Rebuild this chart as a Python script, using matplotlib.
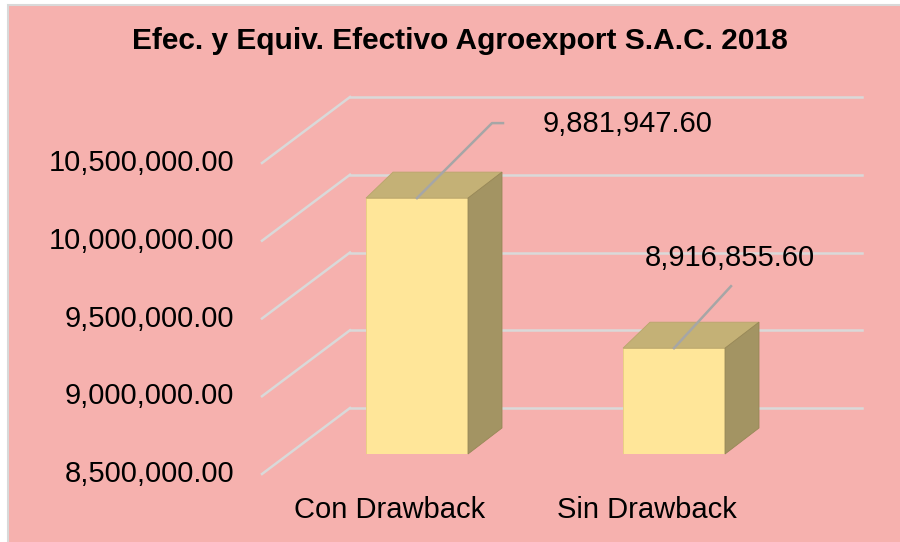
import matplotlib
matplotlib.use("Agg")
import matplotlib.pyplot as plt
from matplotlib.patches import Polygon, Rectangle
import matplotlib.transforms as mtransforms

categories = ["Con Drawback", "Sin Drawback"]
values = [9881947.60, 8916855.60]
ticks = [8500000, 9000000, 9500000, 10000000, 10500000]
title = "Efec. y Equiv. Efectivo Agroexport S.A.C. 2018"

W, H = 900, 542
plt.rcParams['font.family'] = ['Liberation Sans', 'DejaVu Sans']

fig = plt.figure(figsize=(W / 100, H / 100), dpi=100, facecolor="white")

# chart area box (border only visible on left and top)
fig.add_artist(Rectangle((8 / W, -0.05), 1.1, 1.05 - 5 / H, transform=fig.transFigure,
                         facecolor="#F6B1AE", edgecolor="#D9D9D9", lw=1.5, zorder=0))


def px_box(left, top, right, bottom):
    # pixel box (from top-left) -> figure fraction rect
    return [left / W, 1 - bottom / H, (right - left) / W, (bottom - top) / H]


# back wall: gridlines
ax_wall = fig.add_axes(px_box(350, 97, 862, 408))
ax_wall.set_ylim(ticks[0], ticks[-1])
ax_wall.set_xlim(0, 1)
ax_wall.axis("off")
ax_wall.patch.set_alpha(0)

depth_dx, depth_dy = -88, -66   # back wall -> front edge, in pixels (display, y up)
wall_trans = mtransforms.blended_transform_factory(ax_wall.transAxes, ax_wall.transData)
for t in ticks:
    ax_wall.plot([0, 1], [t, t], color="#D9D9D9", lw=1.8, transform=wall_trans, clip_on=False)
    p0 = wall_trans.transform((0, t))
    p1 = p0 + [depth_dx, depth_dy]
    fig.add_artist(plt.Line2D([p0[0], p1[0]], [p0[1], p1[1]], color="#D9D9D9", lw=1.8,
                              transform=None))
    lab_trans = wall_trans + mtransforms.ScaledTranslation(-116 / 100, depth_dy / 100,
                                                           fig.dpi_scale_trans)
    ax_wall.text(0, t, "{:,.2f}".format(t), transform=lab_trans, ha="right", va="center",
                 fontsize=21, color="black")

# bars
px_per_unit = (408 - 97) / (ticks[-1] - ticks[0])
bar_top_px, bar_bottom_px = 102, 454
floor = ticks[-1] - (bar_bottom_px - bar_top_px) / px_per_unit
ax = fig.add_axes(px_box(288.5, bar_top_px, 802.5, bar_bottom_px))
ax.set_ylim(floor, ticks[-1])
ax.set_xlim(-0.5, 1.5)
ax.axis("off")
ax.patch.set_alpha(0)

xs = range(len(categories))
width = 102 / 257
ax.bar(xs, [v - floor for v in values], bottom=floor, width=width, color="#FFE699",
       edgecolor="#E8CF80", lw=0.6, zorder=3)


def shift(x, y, dx, dy):
    d = ax.transData.transform((x, y)) + [dx, dy]
    return tuple(ax.transData.inverted().transform(d))


for i, v in enumerate(values):
    x0, x1 = i - width / 2, i + width / 2
    top = [(x0, v), (x1, v), shift(x1, v, 34, 26), shift(x0, v, 27, 26)]
    side = [(x1, floor), shift(x1, floor, 34, 26), shift(x1, v, 34, 26), (x1, v)]
    ax.add_patch(Polygon(top, closed=True, facecolor="#C4B176", edgecolor="#B8A56C",
                         lw=0.6, zorder=4, clip_on=False))
    ax.add_patch(Polygon(side, closed=True, facecolor="#A39463", edgecolor="#978857",
                         lw=0.6, zorder=4, clip_on=False))

# leader lines and data labels
leaders = [[(0, 0), (75, 75), (86, 75)], [(0, 0), (57, 62)]]
label_off = [(211, 74), (56, 90)]
for i, v in enumerate(values):
    pts = [shift(i, v, dx, dy) for dx, dy in leaders[i]]
    ax.plot([p[0] for p in pts], [p[1] for p in pts], color="#A6A6A6", lw=1.8,
            zorder=6, clip_on=False)
    lx, ly = shift(i, v, *label_off[i])
    ax.text(lx, ly, "{:,.2f}".format(v), ha="center", va="center", fontsize=21,
            color="black", zorder=7)

# category labels
cat_trans = mtransforms.blended_transform_factory(ax.transData, fig.transFigure)
for i, c in enumerate(categories):
    ax.text(i - 27 / 257, 1 - 510 / H, c, transform=cat_trans, ha="center",
            va="center", fontsize=21, color="black")

fig.text(460 / W, 1 - 41 / H, title, ha="center", va="center", fontsize=21.5,
         fontweight="bold", color="black")

fig.savefig("out.png", dpi=100, facecolor=fig.get_facecolor())
